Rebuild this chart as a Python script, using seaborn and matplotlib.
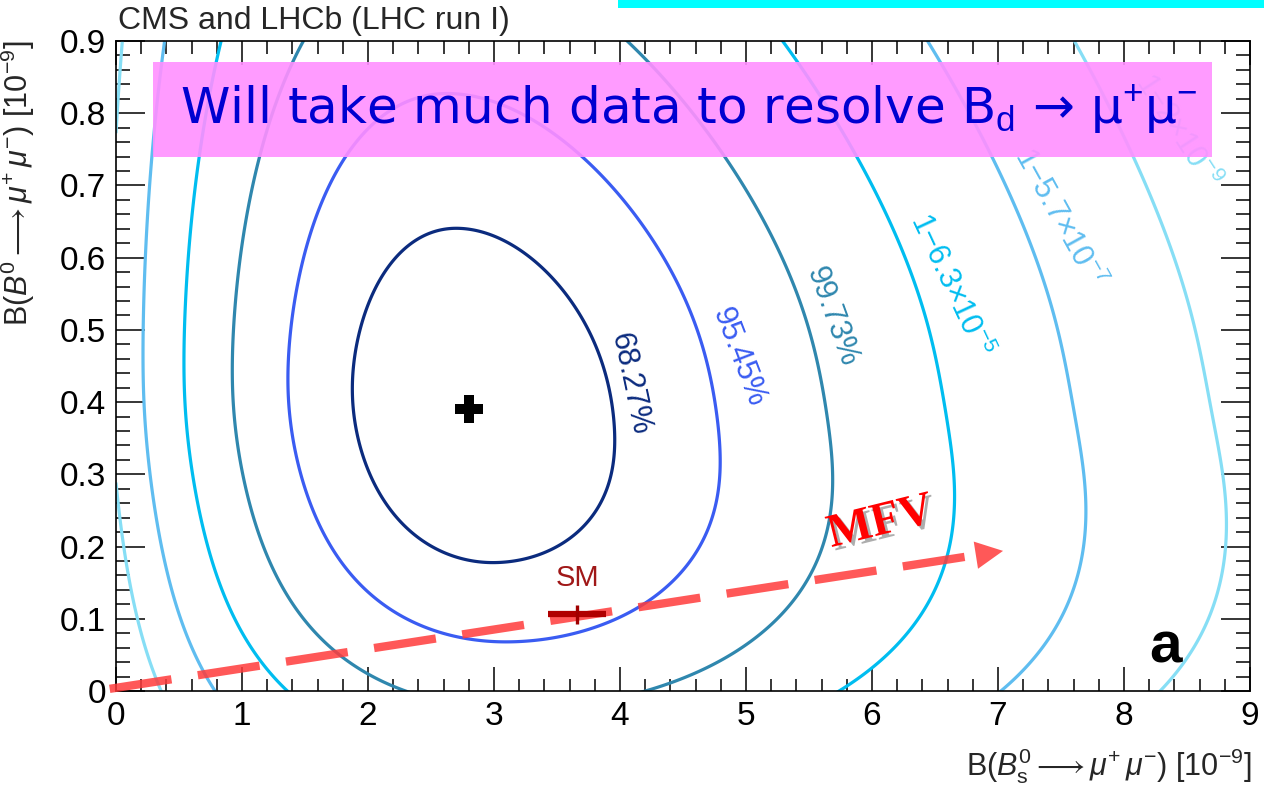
import numpy as np
import matplotlib
matplotlib.use("Agg")
import matplotlib.pyplot as plt
import seaborn as sns
import pandas as pd
from matplotlib.patches import Rectangle
from matplotlib.ticker import MultipleLocator
import matplotlib.patheffects as pe

# ---------------- data ----------------
best_fit_bs = 2.8          # B(Bs->mumu) best fit [1e-9]
best_fit_bd = 0.39         # B(Bd->mumu) best fit [1e-9]
sm_bs, sm_bs_err = 3.66, 0.23
sm_bd, sm_bd_err = 0.106, 0.009

# likelihood shape parameters (estimated from contour extents)
x_offset = 0.5
sigma_u_left = 0.18
sigma_u_right = 0.192
sigma_y_down0 = 0.1604
sigma_y_down_shrink = 0.598
sigma_y_up0 = 0.1514
sigma_y_up_growth = 0.37
shear_down = 0.246
shear_up = 0.11

cl_pvalues = [1 - 0.6827, 1 - 0.9545, 1 - 0.9973, 6.3e-5, 5.7e-7, 2e-9]
cl_labels = ["68.27%", "95.45%", "99.73%",
             r"1$-$6.3$\times$10$^{-5}$", r"1$-$5.7$\times$10$^{-7}$", r"1$-$2$\times$10$^{-9}$"]
cl_colors = ["#0b2b7e", "#3a5cf2", "#2f87ae", "#00bdf0", "#5fbdf0", "#86def5"]
label_x = [4.08, 4.94, 5.68, 6.62, 7.48, 8.42]
label_y = [0.425, 0.462, 0.518, 0.562, 0.655, 0.775]
label_rot = [-78, -69, -70, -65, -61, -57]

mfv_x = [-0.05, 6.84]
mfv_y = [0.003, 0.1885]
mfv_head_x, mfv_head_y = 7.04, 0.194

x_ticks = [0, 1, 2, 3, 4, 5, 6, 7, 8, 9]
y_ticks = [0, 0.1, 0.2, 0.3, 0.4, 0.5, 0.6, 0.7, 0.8, 0.9]
y_ticklabels = ["0", "0.1", "0.2", "0.3", "0.4", "0.5", "0.6", "0.7", "0.8", "0.9"]

# ---------------- styling ----------------
sns.set_theme(style="ticks")
plt.rcParams["font.family"] = ["Liberation Sans", "DejaVu Sans"]
plt.rcParams["mathtext.fontset"] = "custom"
plt.rcParams["mathtext.rm"] = "Liberation Sans"
plt.rcParams["mathtext.it"] = "Liberation Sans:italic"
plt.rcParams["mathtext.bf"] = "Liberation Sans:bold"
plt.rcParams["mathtext.fallback"] = "stixsans"

fig = plt.figure(figsize=(12.64, 7.89), dpi=100)
ax = fig.add_axes([116 / 1264, 1 - 691 / 789, (1250 - 116) / 1264, (691 - 41) / 789])

# ---------------- likelihood field ----------------
gx = np.linspace(0.0, 9.0, 700)
gy = np.linspace(-0.02, 0.92, 500)
X, Y = np.meshgrid(gx, gy)
dy = Y - best_fit_bd
k = 0.5 * (shear_up + shear_down) - 0.5 * (shear_down - shear_up) * np.tanh(dy / 0.1)
centre = np.sqrt(best_fit_bs + x_offset) - k * dy
u = np.sqrt(X + x_offset) - centre
su = np.where(u < 0, sigma_u_left, sigma_u_right)
blend = 0.5 * (1 + np.tanh(dy / 0.06))
sy_down = sigma_y_down0 * (1 - sigma_y_down_shrink * np.clip(-dy, 0, None))
sy_up = sigma_y_up0 * (1 + sigma_y_up_growth * np.clip(dy, 0, None))
sy = sy_down + (sy_up - sy_down) * blend
dchi2 = (u / su) ** 2 + (dy / sy) ** 2

levels = [-2 * np.log(p) for p in cl_pvalues]
ax.contour(X, Y, dchi2, levels=levels, colors=cl_colors, linewidths=2.3, zorder=2)

for lx, ly, lr, lt, lc in zip(label_x, label_y, label_rot, cl_labels, cl_colors):
    ax.text(lx, ly, lt, color=lc, fontsize=22, rotation=lr, ha="center", va="center",
            rotation_mode="anchor", zorder=3)

# ---------------- best fit and SM ----------------
bf = pd.DataFrame({"bs": [best_fit_bs], "bd": [best_fit_bd]})
sns.scatterplot(data=bf, x="bs", y="bd", marker="P", s=420, color="black",
                edgecolor="black", linewidth=0, ax=ax, zorder=5, legend=False)

# ---------------- MFV arrow ----------------
mfv = pd.DataFrame({"x": mfv_x, "y": mfv_y})
sns.lineplot(data=mfv, x="x", y="y", ax=ax, color="#ff3b3b", alpha=0.85, linewidth=6.0,
             dashes=False, zorder=6, clip_on=False, solid_capstyle="butt")
ax.lines[-1].set_dashes([7.5, 3.2])
ax.annotate("", xy=(mfv_head_x, mfv_head_y), xytext=(mfv_x[1], mfv_y[1]),
            arrowprops=dict(arrowstyle="-|>,head_length=0.9,head_width=0.45", color="#ff3b3b",
                            alpha=0.85, lw=0, shrinkA=0, shrinkB=0, mutation_scale=22),
            zorder=6)
ax.text(6.07, 0.232, "MFV", color="#ff0000", fontsize=34, fontweight="bold",
        family=["Liberation Serif", "DejaVu Serif"], rotation=14, ha="center", va="center",
        zorder=7, path_effects=[pe.withSimplePatchShadow(offset=(2.5, -2.5), shadow_rgbFace="#777777", alpha=0.6)])

ax.errorbar([sm_bs], [sm_bd], xerr=[sm_bs_err], fmt="none", ecolor="#b00000",
            elinewidth=4.5, capsize=0, zorder=7)
ax.errorbar([sm_bs], [sm_bd], yerr=[sm_bd_err + 0.004], fmt="none", ecolor="#a00000",
            elinewidth=2.4, capsize=0, zorder=7)
ax.text(sm_bs, sm_bd + 0.05, "SM", color="#a01818", fontsize=21, ha="center", va="center", zorder=7)

# ---------------- annotation box ----------------
ax.add_patch(Rectangle((0.0326, 0.8215), 0.934, 0.146, transform=ax.transAxes,
                       facecolor="#ff90ff", edgecolor="none", alpha=0.9, zorder=8))
ax.text(0.505, 0.894, "Will take much data to resolve B$_{\\rm d}$ \u2192 \u03bc$^{+}$\u03bc$^{-}$",
        transform=ax.transAxes, color="#0000d0", fontsize=36, ha="center", va="center",
        family=["DejaVu Sans"], zorder=9)

ax.text(8.33, 0.06, "a", fontsize=42, fontweight="bold", ha="center", va="center", color="black", zorder=4)

# ---------------- axes ----------------
ax.set_xlim(0, 9)
ax.set_ylim(0, 0.9)
ax.set_xticks(x_ticks)
ax.set_yticks(y_ticks)
ax.set_yticklabels(y_ticklabels)
ax.xaxis.set_minor_locator(MultipleLocator(0.2))
ax.yaxis.set_minor_locator(MultipleLocator(0.02))
ax.tick_params(which="both", direction="in", top=True, right=True, width=1.1, color="black",
               labelsize=24, labelcolor="black")
ax.tick_params(axis="x", which="major", length=17, pad=7)
ax.tick_params(axis="x", which="minor", length=9)
ax.tick_params(axis="y", which="major", length=21, pad=7)
ax.tick_params(axis="y", which="minor", length=10)
for s in ax.spines.values():
    s.set_linewidth(1.2)
    s.set_color("black")
ax.set_xlabel("")
ax.set_ylabel("")

fig.text(1252 / 1264, 1 - 766 / 789, r"B($B^0_{\rm s}\longrightarrow\mu^{+}\,\mu^{-}$) [10$^{-9}$]",
         fontsize=22, ha="right", va="center")
fig.text(18 / 1264, 1 - 40 / 789, r"B($B^0\longrightarrow\mu^{+}\,\mu^{-}$) [10$^{-9}$]",
         fontsize=22, ha="center", va="top", rotation=90)
fig.text(118 / 1264, 1 - 21 / 789, "CMS and LHCb (LHC run I)", fontsize=23, ha="left", va="center")

fig.patches.append(Rectangle((618 / 1264, 1 - 8 / 789), 1 - 618 / 1264, 8 / 789, transform=fig.transFigure,
                             facecolor="#00ffff", edgecolor="none", figure=fig))

fig.savefig("out.png", dpi=100)
